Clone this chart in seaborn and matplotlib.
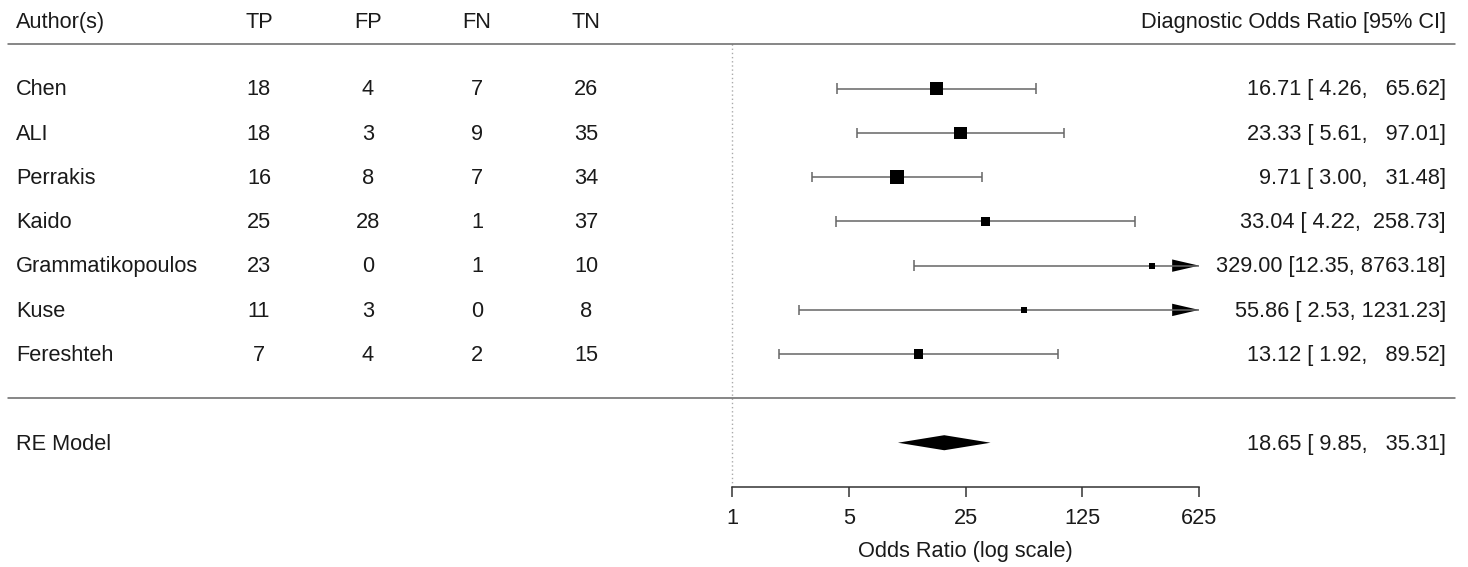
# Forest plot of diagnostic odds ratios (metafor style)
import numpy as np
import pandas as pd
import matplotlib
matplotlib.use("Agg")
import matplotlib.pyplot as plt
import matplotlib.transforms as mtransforms
import seaborn as sns

# %% Data
authors = ["Chen", "ALI", "Perrakis", "Kaido", "Grammatikopoulos", "Kuse", "Fereshteh"]
tp = [18, 18, 16, 25, 23, 11, 7]
fp = [4, 3, 8, 28, 0, 3, 4]
fn = [7, 9, 7, 1, 1, 0, 2]
tn = [26, 35, 34, 37, 10, 8, 15]
dor = [16.71, 23.33, 9.71, 33.04, 329.00, 55.86, 13.12]
ci_lo = [4.26, 5.61, 3.00, 4.22, 12.35, 2.53, 1.92]
ci_hi = [65.62, 97.01, 31.48, 258.73, 8763.18, 1231.23, 89.52]
re_est, re_lo, re_hi = 18.65, 9.85, 35.31
tick_vals = [1, 5, 25, 125, 625]

# %% Theme
sns.set_theme(style="white")
plt.rcParams['font.family'] = ['Liberation Sans', 'DejaVu Sans']
fs = 15.7
txtcol = '#1a1a1a'
linecol = '#666666'

df = pd.DataFrame({'author': authors, 'TP': tp, 'FP': fp, 'FN': fn, 'TN': tn,
                   'dor': dor, 'lo': ci_lo, 'hi': ci_hi})
k = len(df)
df['row'] = np.arange(k, 0, -1)
df['yi'] = np.log(df['dor'])
df['llo'] = np.log(df['lo'])
df['lhi'] = np.log(df['hi'])

# box size from precision, scaled to 0.5 .. 1.5 like metafor
wi = 1 / ((df['lhi'] - df['llo']) / (2 * 1.96))
df['psize'] = (wi - wi.min()) / (wi.max() - wi.min()) + 0.5

amin, amax = np.log(tick_vals[0]), np.log(tick_vals[-1])
df['lo_c'] = df['llo'].clip(amin, amax)
df['hi_c'] = df['lhi'].clip(amin, amax)

# %% Figure
fig = plt.figure(figsize=(14.68, 5.67), dpi=100)
ax = fig.add_axes([0, 80 / 567, 1, 487 / 567])
px_per = 467 / amax
ax.set_xlim(-732 / px_per, (1468 - 732) / px_per)
ax.set_ylim(-2, 9)

# CI lines and end ticks
ax.hlines(df['row'], df['lo_c'], df['hi_c'], color=linecol, lw=1.1)
th = 0.12
for _, r in df.iterrows():
    if r['llo'] >= amin:
        ax.vlines(r['lo_c'], r['row'] - th, r['row'] + th, color=linecol, lw=1.1)
    if r['lhi'] <= amax:
        ax.vlines(r['hi_c'], r['row'] - th, r['row'] + th, color=linecol, lw=1.1)
    else:
        aw, ah = 0.37, 0.14
        ax.fill([amax - aw, amax, amax - aw], [r['row'] - ah, r['row'], r['row'] + ah],
                color='black', lw=0)

# study boxes
box_px = df['psize'] * 8.7 + 1.6
sns.scatterplot(data=df, x='yi', y='row', marker='s', s=(box_px * 0.72) ** 2,
                color='black', linewidth=0, legend=False, ax=ax, zorder=3)

# summary diamond
dh = 0.17
ax.fill([np.log(re_lo), np.log(re_est), np.log(re_hi), np.log(re_est)],
        [-1, -1 + dh, -1, -1 - dh], color='black', lw=0)

# reference line and separators
ax.vlines(0, -2, 8, color='#aaaaaa', lw=1, linestyles=(0, (1, 2)))
for yy in [8, 0]:
    ax.axhline(yy, xmin=8 / 1468, xmax=1455 / 1468, color=linecol, lw=1.1)

# %% Table text
trans = mtransforms.blended_transform_factory(ax.transAxes, ax.transData)
col_x = {'TP': 259, 'FP': 368, 'FN': 477, 'TN': 586}
dy = -0.03
hy = 8.5
ax.text(16 / 1468, hy, "Author(s)", transform=trans, ha='left', va='center', fontsize=fs, color=txtcol)
for c, xp in col_x.items():
    ax.text(xp / 1468, hy, c, transform=trans, ha='center', va='center', fontsize=fs, color=txtcol)
ax.text(1446 / 1468, hy, "Diagnostic Odds Ratio [95% CI]", transform=trans, ha='right',
        va='center', fontsize=fs, color=txtcol)

for _, r in df.iterrows():
    ax.text(16 / 1468, r['row'] + dy, r['author'], transform=trans, ha='left', va='center',
            fontsize=fs, color=txtcol)
    for c, xp in col_x.items():
        ax.text(xp / 1468, r['row'] + dy, str(r[c]), transform=trans, ha='center', va='center',
                fontsize=fs, color=txtcol)
    lab = f"{r['dor']:.2f} [{r['lo']:5.2f}, {r['hi']:7.2f}]"
    ax.text(1446 / 1468, r['row'] + dy, lab, transform=trans, ha='right', va='center',
            fontsize=fs, color=txtcol)

ax.text(16 / 1468, -1 + dy, "RE Model", transform=trans, ha='left', va='center', fontsize=fs, color=txtcol)
ax.text(1446 / 1468, -1 + dy, f"{re_est:.2f} [{re_lo:5.2f}, {re_hi:7.2f}]", transform=trans,
        ha='right', va='center', fontsize=fs, color=txtcol)

# %% Axis
for s in ['top', 'left', 'right']:
    ax.spines[s].set_visible(False)
ax.spines['bottom'].set_bounds(amin, amax)
ax.spines['bottom'].set_color('#333333')
ax.spines['bottom'].set_linewidth(1.1)
ax.set_xticks(np.log(tick_vals))
ax.set_xticklabels([str(v) for v in tick_vals])
ax.set_yticks([])
ax.tick_params(axis='x', bottom=True, length=7, width=1.1, color='#333333',
               labelsize=fs, labelcolor=txtcol, pad=8)
ax.set_xlabel("Odds Ratio (log scale)", fontsize=fs, color=txtcol, labelpad=9)
ax.xaxis.label.set_x(965 / 1468)
ax.set_ylabel("")

plt.savefig("out.png", dpi=100)
